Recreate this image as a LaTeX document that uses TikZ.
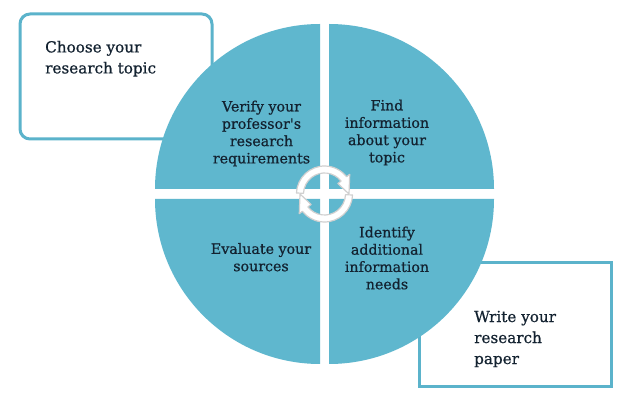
\documentclass[tikz,border=0pt]{standalone}
\usepackage{fontspec}
\setmainfont{DejaVu Serif}[UprightFeatures={FakeBold=0.7}]
\definecolor{qfill}{HTML}{5FB7CE}
\definecolor{boxc}{HTML}{5BB3CB}
\definecolor{arrowc}{HTML}{D0D0D0}
\definecolor{textc}{HTML}{132230}
\begin{document}
\begin{tikzpicture}[x=1pt,y=1pt,
  boxline/.style={draw=boxc, line width=3pt, fill=white},
  quad/.style={fill=qfill},
  cyc/.style={fill=white, draw=arrowc, line width=1.2pt, line join=round},
  qtext/.style={font=\fontsize{14.2}{17.3}\selectfont, text=textc, align=center, inner sep=0pt},
  btext/.style={font=\fontsize{15.2}{21}\selectfont, text=textc, align=left, inner sep=0pt, anchor=west}]
\useasboundingbox (0,0) rectangle (626,404);
\fill[white] (0,0) rectangle (626,404);
% boxes behind
\draw[boxline, rounded corners=10pt] (20,265) rectangle (212,390);
\draw[boxline] (419,17) rectangle (611,141);
% quadrants
\fill[quad] (320,215) -- (155,215) arc[start angle=180,end angle=90,radius=165pt] -- cycle;
\fill[quad] (329,215) -- (329,380) arc[start angle=90,end angle=0,radius=165pt] -- cycle;
\fill[quad] (320,205) -- (320,40) arc[start angle=270,end angle=180,radius=165pt] -- cycle;
\fill[quad] (329,205) -- (494,205) arc[start angle=0,end angle=-90,radius=165pt] -- cycle;
% cycle arrows
\coordinate (cc) at (324.5,210);
\draw[cyc, shift={(cc)}] (178:28pt) arc[start angle=178,end angle=38,radius=28pt] -- (38:32pt) -- (0:24.5pt) -- (38:17pt) -- (38:21pt) arc[start angle=38,end angle=178,radius=21pt] -- cycle;
\draw[cyc, shift={(cc)}] (-2:28pt) arc[start angle=-2,end angle=-142,radius=28pt] -- (-142:32pt) -- (-180:24.5pt) -- (-142:17pt) -- (-142:21pt) arc[start angle=-142,end angle=-2,radius=21pt] -- cycle;
% texts
\node[btext] (choose) at (45,345.3) {Choose your\\research topic};
\node[btext] (write) at (474,65) {Write your\\research\\paper};
\node[qtext] (verify) at (261.5,270.5) {Verify your\\professor\textquotesingle s\\research\\requirements};
\node[qtext] (find) at (387,271.5) {Find\\information\\about your\\topic};
\node[qtext] (evaluate) at (261,146.8) {Evaluate your\\sources};
\node[qtext] (identify) at (387,146) {Identify\\additional\\information\\needs};
\end{tikzpicture}
\end{document}
